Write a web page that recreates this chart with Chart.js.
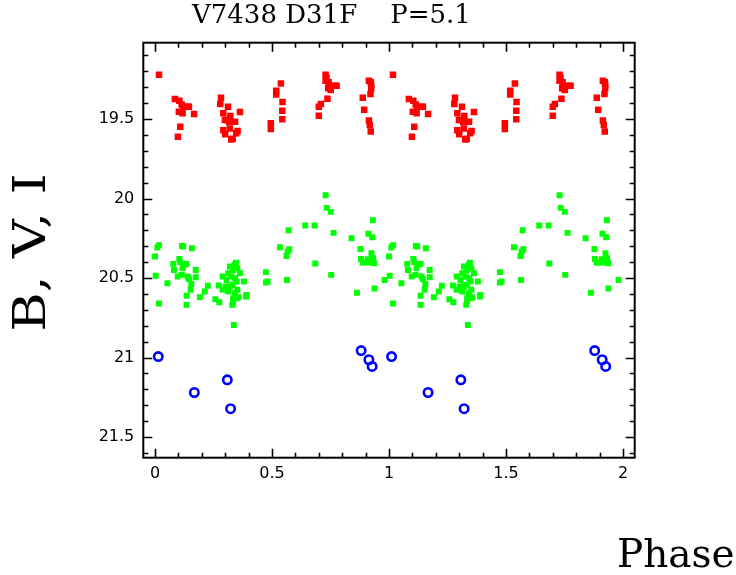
<!DOCTYPE html>
<html>
<head>
<meta charset="utf-8">
<script src="https://cdn.jsdelivr.net/npm/chart.js@4.4.1/dist/chart.umd.min.js"></script>
<style>
  html, body { margin: 0; padding: 0; background: #fff; }
  #wrap { width: 736px; height: 575px; }
</style>
</head>
<body>
<div id="wrap"><canvas id="c" width="736" height="575"></canvas></div>
<script>
// ---- data ----
const titleText = 'V7438 D31F    P=5.1';
const xTitle = 'Phase';
const yTitle = 'B, V, I';
const xTicks = [0, 0.5, 1, 1.5, 2];
const xTickLabels = ['0', '0.5', '1', '1.5', '2'];
const yTicks = [19.5, 20, 20.5, 21, 21.5];
const yTickLabels = ['19.5', '20', '20.5', '21', '21.5'];

// I band (red squares)
const redPhase = [0.017,0.085,0.104,0.114,0.121,0.140,0.145,0.102,0.118,0.167,0.108,0.098,0.282,0.279,0.312,0.292,0.322,0.363,0.299,0.309,0.342,0.317,0.292,0.320,0.300,0.353,0.347,0.332,0.326,0.495,0.495,0.518,0.518,0.538,0.545,0.544,0.544,0.700,0.700,0.709,0.737,0.729,0.733,0.729,0.742,0.747,0.751,0.776,0.766,0.740,0.888,0.894,0.914,0.922,0.924,0.924,0.921,0.914,0.918,0.922,
  1.017,1.085,1.104,1.114,1.121,1.140,1.145,1.102,1.118,1.167,1.108,1.098,1.282,1.279,1.312,1.292,1.322,1.363,1.299,1.309,1.342,1.317,1.292,1.320,1.300,1.353,1.347,1.332,1.326,1.495,1.495,1.518,1.518,1.538,1.545,1.544,1.544,1.700,1.700,1.709,1.737,1.729,1.733,1.729,1.742,1.747,1.751,1.776,1.766,1.740,1.888,1.894,1.914,1.922,1.924,1.924,1.921,1.914,1.918,1.922];
const redMag = [19.222,19.374,19.385,19.408,19.423,19.423,19.423,19.454,19.464,19.469,19.548,19.611,19.366,19.406,19.423,19.464,19.481,19.456,19.506,19.506,19.517,19.519,19.571,19.559,19.596,19.575,19.590,19.624,19.628,19.527,19.563,19.322,19.345,19.276,19.393,19.448,19.502,19.479,19.423,19.406,19.373,19.222,19.241,19.259,19.268,19.293,19.318,19.291,19.291,19.307,19.366,19.442,19.259,19.268,19.286,19.307,19.343,19.510,19.538,19.578,
  19.222,19.374,19.385,19.408,19.423,19.423,19.423,19.454,19.464,19.469,19.548,19.611,19.366,19.406,19.423,19.464,19.481,19.456,19.506,19.506,19.517,19.519,19.571,19.559,19.596,19.575,19.590,19.624,19.628,19.527,19.563,19.322,19.345,19.276,19.393,19.448,19.502,19.479,19.423,19.406,19.373,19.222,19.241,19.259,19.268,19.293,19.318,19.291,19.291,19.307,19.366,19.442,19.259,19.268,19.286,19.307,19.343,19.510,19.538,19.578];

// V band (green squares)
const greenPhase = [0.000,0.003,0.017,0.010,0.017,0.053,0.078,0.081,0.097,0.104,0.108,0.115,0.121,0.114,0.118,0.127,0.135,0.139,0.145,0.152,0.155,0.135,0.135,0.158,0.174,0.174,0.192,0.213,0.226,0.258,0.275,0.273,0.289,0.289,0.302,0.306,0.313,0.320,0.327,0.334,0.340,0.346,0.352,0.363,0.342,0.349,0.313,0.320,0.332,0.352,0.342,0.334,0.349,0.357,0.330,0.334,0.380,0.391,0.389,0.337,0.474,0.474,0.481,0.534,0.562,0.567,0.574,0.571,0.564,0.642,0.682,0.685,0.729,0.734,0.751,0.763,0.753,0.840,0.863,0.878,0.880,0.887,0.898,0.909,0.918,0.925,0.932,0.936,0.912,0.928,0.931,0.938,0.981,
  1.000,1.003,1.017,1.010,1.017,1.053,1.078,1.081,1.097,1.104,1.108,1.115,1.121,1.114,1.118,1.127,1.135,1.139,1.145,1.152,1.155,1.135,1.135,1.158,1.174,1.174,1.192,1.213,1.226,1.258,1.275,1.273,1.289,1.289,1.302,1.306,1.313,1.320,1.327,1.334,1.340,1.346,1.352,1.363,1.342,1.349,1.313,1.320,1.332,1.352,1.342,1.334,1.349,1.357,1.330,1.334,1.380,1.391,1.389,1.337,1.474,1.474,1.481,1.534,1.562,1.567,1.574,1.571,1.564,1.642,1.682,1.685,1.729,1.734,1.751,1.763,1.753,1.840,1.863,1.878,1.880,1.887,1.898,1.909,1.918,1.925,1.932,1.936,1.912,1.928,1.931,1.938,1.981];
const greenMag = [20.365,20.486,20.660,20.308,20.294,20.533,20.411,20.449,20.491,20.380,20.401,20.298,20.302,20.480,20.438,20.417,20.411,20.491,20.507,20.574,20.537,20.612,20.669,20.313,20.449,20.495,20.621,20.585,20.549,20.633,20.652,20.547,20.491,20.574,20.553,20.512,20.470,20.428,20.491,20.449,20.417,20.403,20.438,20.470,20.501,20.522,20.585,20.553,20.543,20.574,20.595,20.627,20.627,20.621,20.669,20.648,20.522,20.606,20.616,20.796,20.463,20.528,20.522,20.306,20.361,20.334,20.319,20.200,20.512,20.170,20.170,20.409,19.980,20.059,20.084,20.216,20.480,20.250,20.593,20.317,20.380,20.403,20.403,20.382,20.403,20.344,20.375,20.407,20.221,20.243,20.137,20.566,20.512,
  20.365,20.486,20.660,20.308,20.294,20.533,20.411,20.449,20.491,20.380,20.401,20.298,20.302,20.480,20.438,20.417,20.411,20.491,20.507,20.574,20.537,20.612,20.669,20.313,20.449,20.495,20.621,20.585,20.549,20.633,20.652,20.547,20.491,20.574,20.553,20.512,20.470,20.428,20.491,20.449,20.417,20.403,20.438,20.470,20.501,20.522,20.585,20.553,20.543,20.574,20.595,20.627,20.627,20.621,20.669,20.648,20.522,20.606,20.616,20.796,20.463,20.528,20.522,20.306,20.361,20.334,20.319,20.200,20.512,20.170,20.170,20.409,19.980,20.059,20.084,20.216,20.480,20.250,20.593,20.317,20.380,20.403,20.403,20.382,20.403,20.344,20.375,20.407,20.221,20.243,20.137,20.566,20.512];

// B band (blue open circles)
const bluePhase = [0.014,0.168,0.309,0.323,0.881,0.914,0.928, 1.011,1.167,1.307,1.321,1.879,1.911,1.926];
const blueMag   = [20.994,21.220,21.140,21.322,20.956,21.014,21.056, 20.994,21.220,21.140,21.322,20.956,21.014,21.056];

function toPoints(xs, ys) { return xs.map((x, i) => ({ x: x, y: ys[i] })); }

const framePlugin = {
  id: 'frame',
  afterDraw(chart) {
    const ctx = chart.ctx;
    const a = chart.chartArea;
    const xs = chart.scales.x, ys = chart.scales.y;
    ctx.save();
    ctx.strokeStyle = '#000';
    ctx.lineWidth = 2;
    ctx.strokeRect(a.left, a.top, a.right - a.left, a.bottom - a.top);
    ctx.lineWidth = 1.6;
    ctx.beginPath();
    for (let i = 0; i <= 20; i++) {
      const v = i / 10;
      const len = (i % 5 === 0) ? 9 : 5;
      const px = Math.round(xs.getPixelForValue(v)) + 0.5;
      ctx.moveTo(px, a.bottom); ctx.lineTo(px, a.bottom - len);
      ctx.moveTo(px, a.top); ctx.lineTo(px, a.top + len);
    }
    for (let i = 191; i <= 216; i++) {
      const v = i / 10;
      const len = (i % 5 === 0) ? 9 : 5;
      const py = Math.round(ys.getPixelForValue(v)) + 0.5;
      ctx.moveTo(a.left, py); ctx.lineTo(a.left + len, py);
      ctx.moveTo(a.right, py); ctx.lineTo(a.right - len, py);
    }
    ctx.stroke();

    ctx.fillStyle = '#000';
    ctx.textBaseline = 'alphabetic';
    ctx.textAlign = 'left';
    ctx.font = '26px "DejaVu Serif"';
    ctx.fillText(titleText, 192, 23);

    ctx.font = '39px "DejaVu Serif"';
    ctx.fillText(xTitle, 617, 567);

    ctx.translate(45, 252.5);
    ctx.rotate(-Math.PI / 2);
    ctx.scale(1.22, 1);
    ctx.textAlign = 'center';
    ctx.font = '44px "DejaVu Serif"';
    ctx.fillText(yTitle, 0, 0);
    ctx.restore();
  }
};

const tickFont = { family: 'DejaVu Sans', size: 16 };

new Chart(document.getElementById('c'), {
  type: 'scatter',
  data: {
    datasets: [
      { label: 'I', data: toPoints(redPhase, redMag), pointStyle: 'rect', radius: 4.6, backgroundColor: '#ff0000', borderWidth: 0 },
      { label: 'V', data: toPoints(greenPhase, greenMag), pointStyle: 'rect', radius: 4.2, backgroundColor: '#00ff00', borderWidth: 0 },
      { label: 'B', data: toPoints(bluePhase, blueMag), pointStyle: 'circle', radius: 4.2, backgroundColor: 'rgba(0,0,0,0)', borderColor: '#0000ff', borderWidth: 2.6 }
    ]
  },
  options: {
    responsive: false,
    animation: false,
    events: [],
    layout: { padding: { top: 42.7, right: 101.3, left: 0, bottom: 0 } },
    plugins: { legend: { display: false }, tooltip: { enabled: false }, title: { display: false } },
    scales: {
      x: {
        type: 'linear', min: -0.05, max: 2.05,
        grid: { display: false, drawTicks: false },
        border: { display: false },
        ticks: { padding: 7, font: tickFont, color: '#000', autoSkip: false, maxRotation: 0,
                 callback: (v, i) => xTickLabels[i] },
        afterBuildTicks: s => { s.ticks = xTicks.map(v => ({ value: v })); },
        afterFit: s => { s.height = 117.3; }
      },
      y: {
        type: 'linear', reverse: true, min: 19.02, max: 21.63,
        grid: { display: false, drawTicks: false },
        border: { display: false },
        ticks: { padding: 9, font: tickFont, color: '#000', autoSkip: false,
                 callback: (v, i) => yTickLabels[i] },
        afterBuildTicks: s => { s.ticks = yTicks.map(v => ({ value: v })); },
        afterFit: s => { s.width = 143.3; }
      }
    }
  },
  plugins: [framePlugin]
});
</script>
</body>
</html>
